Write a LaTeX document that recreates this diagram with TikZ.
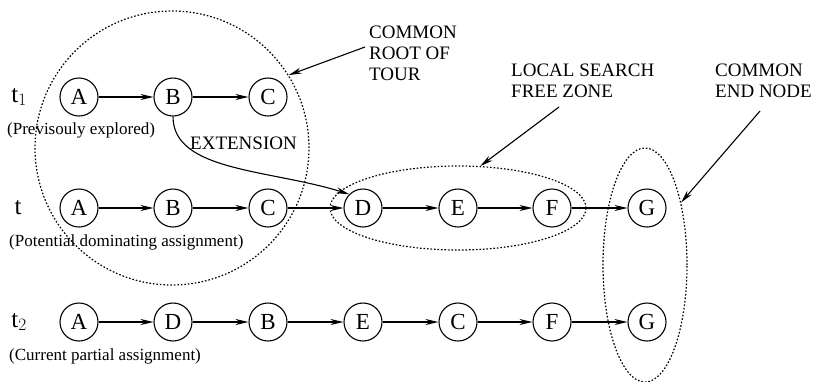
\documentclass[tikz,border=0pt]{standalone}
\usepackage{fontspec}
\setmainfont{Liberation Serif}
\usepackage{tikz}
\usetikzlibrary{arrows.meta}
\usetikzlibrary{shapes.geometric}
\tikzstyle{city}=[draw, circle, line width=1.1pt, inner sep=0pt, minimum size=38pt, font=\fontsize{23}{23}\selectfont]
\tikzstyle{hop}=[line width=1.1pt, -{Stealth[length=13pt, width=6pt]}]
\tikzstyle{zone}=[draw, ellipse, line width=1.2pt, dash pattern=on 1.6pt off 1.9pt, inner sep=0pt]
\tikzstyle{note}=[anchor=west, align=left, inner sep=0pt, font=\fontsize{19}{21}\selectfont]
\tikzstyle{row}=[anchor=west, inner sep=0pt, font=\fontsize{17}{18}\selectfont]
\tikzstyle{tag}=[inner sep=0pt, font=\fontsize{25}{25}\selectfont]

\begin{document}
\begin{tikzpicture}[x=1pt, y=-1pt]
        \useasboundingbox (0,0) rectangle (816,381);
        % zones
        \node[zone, circle, minimum size=274pt] (root) at (172, 148) {};
        \node[zone, minimum width=256pt, minimum height=84pt] (free) at (458, 208) {};
        \node[zone, minimum width=84pt, minimum height=234pt] (end) at (645, 265) {};
        % t1
        \node[tag] (t1) at (19, 97) {t\(_1\)};
        \node[row] (t1txt) at (7, 130) {(Previsouly explored)};
        \node[city] (A1) at (79, 97) {A};
        \node[city] (B1) at (173, 97) {B};
        \node[city] (C1) at (268, 97) {C};
        \draw[hop] (A1) -- (B1);
        \draw[hop] (B1) -- (C1);
        % t
        \node[tag] (t) at (18, 208) {t};
        \node[row] (ttxt) at (9, 242) {(Potential dominating assignment)};
        \node[city] (A) at (79, 208) {A};
        \node[city] (B) at (173, 208) {B};
        \node[city] (C) at (268, 208) {C};
        \node[city] (D) at (363, 208) {D};
        \node[city] (E) at (458, 208) {E};
        \node[city] (F) at (552, 208) {F};
        \node[city] (G) at (647, 208) {G};
        \draw[hop] (A) -- (B);
        \draw[hop] (B) -- (C);
        \draw[hop] (C) -- (D);
        \draw[hop] (D) -- (E);
        \draw[hop] (E) -- (F);
        \draw[hop] (F) -- (G);
        % t2
        \node[tag] (t2) at (19, 322) {t\(_2\)};
        \node[row] (t2txt) at (9, 356) {(Current partial assignment)};
        \node[city] (A2) at (79, 322) {A};
        \node[city] (D2) at (173, 322) {D};
        \node[city] (B2) at (268, 322) {B};
        \node[city] (E2) at (363, 322) {E};
        \node[city] (C2) at (458, 322) {C};
        \node[city] (F2) at (552, 322) {F};
        \node[city] (G2) at (647, 322) {G};
        \draw[hop] (A2) -- (D2);
        \draw[hop] (D2) -- (B2);
        \draw[hop] (B2) -- (E2);
        \draw[hop] (E2) -- (C2);
        \draw[hop] (C2) -- (F2);
        \draw[hop] (F2) -- (G2);
        % extension
        \node[note] (ext) at (190, 143) {EXTENSION};
        \draw[hop] (B1.south) .. controls +(0, 55) and +(-80, -25) .. (D.north west);
        % notes
        \node[note] (rootlbl) at (369, 53) {COMMON\\ROOT OF\\TOUR};
        \node[note] (freelbl) at (511, 81) {LOCAL SEARCH\\FREE ZONE};
        \node[note] (endlbl) at (715, 81) {COMMON\\END NODE};
        \coordinate (rootarr) at (365, 47);
        \coordinate (freearr) at (559, 107);
        \coordinate (endarr) at (760, 111);
        \draw[hop] (rootarr) -- (root.32);
        \draw[hop] (freearr) -- (free.62);
        \draw[hop] (endarr) -- (end.60);
    \end{tikzpicture}
\end{document}
